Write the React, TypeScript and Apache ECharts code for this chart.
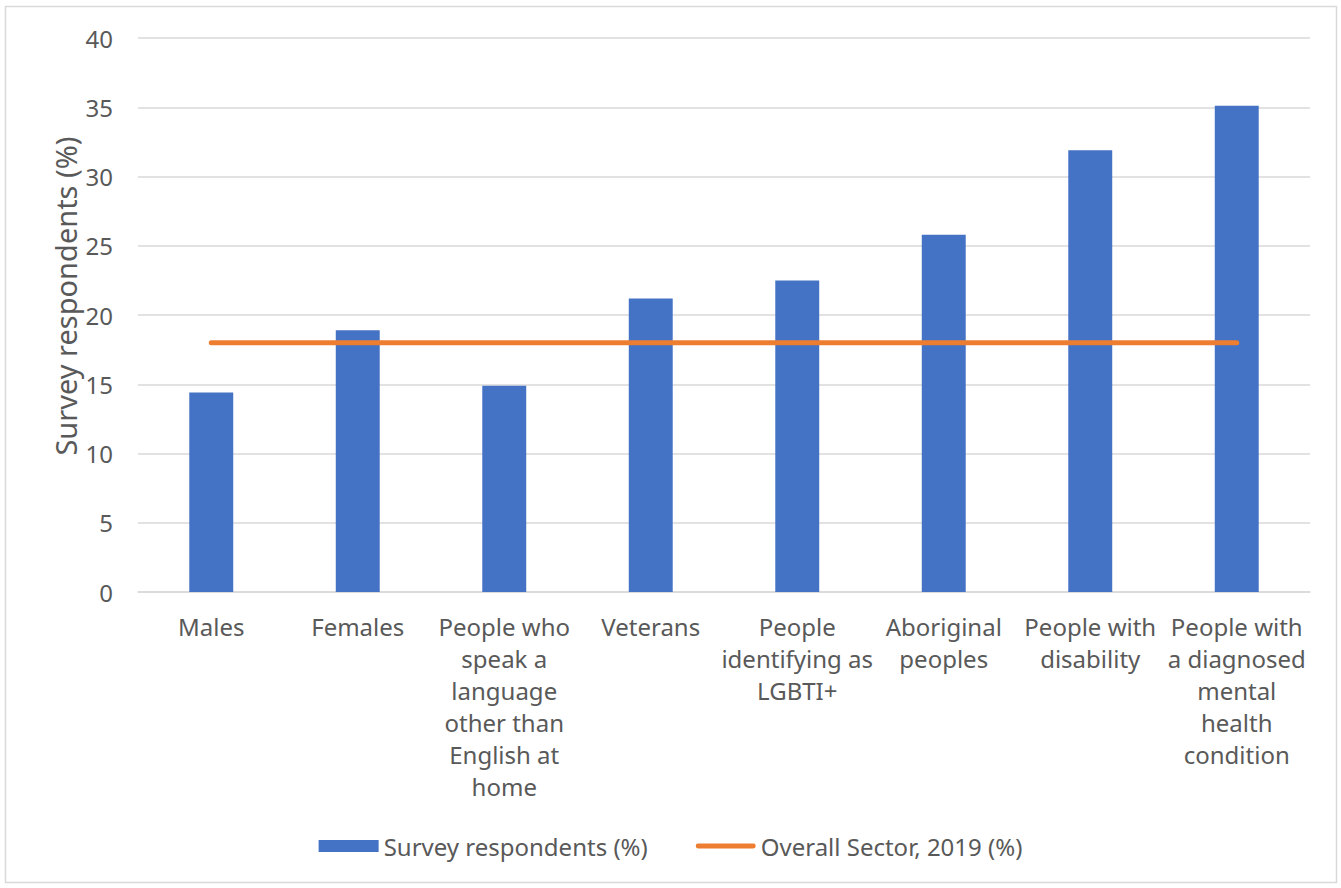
import React, { useEffect, useRef } from "react";
import * as echarts from "echarts";

const categories = [
  "Males",
  "Females",
  "People who\nspeak a\nlanguage\nother than\nEnglish at\nhome",
  "Veterans",
  "People\nidentifying as\nLGBTI+",
  "Aboriginal\npeoples",
  "People with\ndisability",
  "People with\na diagnosed\nmental\nhealth\ncondition",
];
const surveyRespondents = [14.4, 18.9, 14.9, 21.2, 22.5, 25.8, 31.9, 35.1];
const overallSector2019 = [18, 18, 18, 18, 18, 18, 18, 18];
const yTicks = { min: 0, max: 40, interval: 5 };
const yAxisTitle = "Survey respondents (%)";

const FONT = "'Noto Sans', 'Open Sans', sans-serif";
const TEXT = "#595959";

export default function App() {
  const ref = useRef<HTMLDivElement>(null);
  useEffect(() => {
    if (!ref.current) return;
    const chart = echarts.init(ref.current, undefined, { renderer: "svg" });
    chart.setOption({
      animation: false,
      backgroundColor: "#ffffff",
      textStyle: { fontFamily: FONT },
      graphic: [
        {
          type: "rect",
          shape: { x: 5.5, y: 6.5, width: 1331, height: 876 },
          style: { fill: "none", stroke: "#D9D9D9", lineWidth: 1.5 },
          silent: true,
        },
        {
          type: "text",
          x: 65,
          y: 296,
          rotation: Math.PI / 2,
          style: {
            text: yAxisTitle,
            fill: TEXT,
            fontSize: 29,
            fontFamily: FONT,
            align: "center",
            verticalAlign: "middle",
          },
          silent: true,
        },
      ],
      grid: { left: 138, top: 38, width: 1172, height: 554 },
      legend: {
        bottom: 25,
        left: "center",
        itemWidth: 60,
        itemHeight: 12,
        itemGap: 48,
        textStyle: { color: TEXT, fontSize: 24, fontFamily: FONT },
        data: [
          { name: "Survey respondents (%)", icon: "rect" },
          {
            name: "Overall Sector, 2019 (%)",
            icon: "path://M0,0 M2.5,3.5 L59.5,3.5 A2.5,2.5 0 0 1 59.5,8.5 L2.5,8.5 A2.5,2.5 0 0 1 2.5,3.5 Z M62,12",
            itemStyle: { color: "#ED7D31" },
          },
        ],
      },
      xAxis: {
        type: "category",
        data: categories,
        axisTick: { show: false },
        axisLine: { lineStyle: { color: "#D9D9D9", width: 1.5 } },
        axisLabel: {
          color: TEXT,
          fontSize: 24,
          lineHeight: 32,
          margin: 18,
          interval: 0,
          align: "center",
          fontFamily: FONT,
        },
      },
      yAxis: {
        type: "value",
        min: yTicks.min,
        max: yTicks.max,
        interval: yTicks.interval,
        axisLabel: { color: TEXT, fontSize: 24, margin: 25, fontFamily: FONT },
        splitLine: { lineStyle: { color: "#D9D9D9", width: 1.5 } },
        axisLine: { show: false },
        axisTick: { show: false },
      },
      series: [
        {
          name: "Survey respondents (%)",
          type: "bar",
          data: surveyRespondents,
          barWidth: "30%",
          itemStyle: { color: "#4472C4" },
        },
        {
          name: "Overall Sector, 2019 (%)",
          type: "line",
          data: overallSector2019,
          symbol: "none",
          lineStyle: { color: "#ED7D31", width: 5, cap: "round" },
          itemStyle: { color: "#ED7D31" },
        },
      ],
    });
    return () => chart.dispose();
  }, []);
  return (
    <div
      ref={ref}
      style={{ position: "absolute", left: 0, top: 0, width: 1341, height: 888 }}
    />
  );
}
